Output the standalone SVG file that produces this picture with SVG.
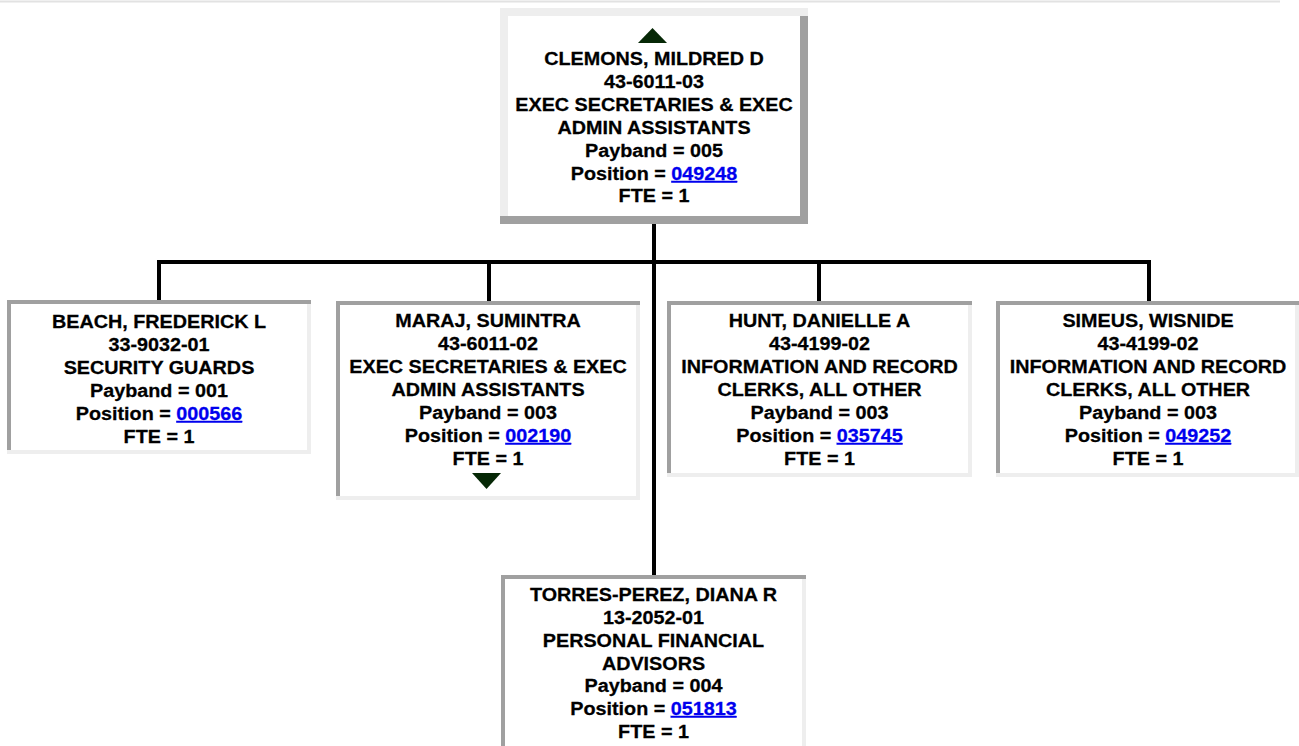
<svg xmlns="http://www.w3.org/2000/svg" width="1299" height="746" viewBox="0 0 1299 746">
<style>
text{font-family:"Liberation Sans",Arial,sans-serif;font-weight:bold;font-size:17.5px;fill:#000;text-anchor:middle;stroke:#000;stroke-width:0.25px}
.lnk{fill:#0000ee;stroke:#0000ee;text-decoration:underline}
.lt{fill:#eeeeee}
.dk{fill:#a0a0a0}
.tri{fill:#062806}
.conn{fill:none;stroke:#000;stroke-width:4}
</style>
<rect width="1299" height="746" fill="#fff"/>
<line x1="0" y1="1.5" x2="1280" y2="1.5" stroke="#e2e2e2" stroke-width="2"/>
<g id="connectors">
<path class="conn" d="M159 301 V262 H1149 V301 M489 262 V301 M819 262 V301 M654 224 V575"/>
</g>
<g id="node-clemons">
<rect x="500" y="8" width="308" height="216" fill="#fff"/>
<rect class="lt" x="500" y="8" width="308" height="8"/>
<rect class="lt" x="500" y="8" width="8" height="216"/>
<rect class="dk" x="800" y="16" width="8" height="208"/>
<rect class="dk" x="500" y="216" width="308" height="8"/>
<polygon class="tri" points="638,43 667,43 652.5,28"/>
<g transform="translate(654,0) scale(1.13,1)">
<text x="0" y="65">CLEMONS, MILDRED D</text>
<text x="0" y="88">43-6011-03</text>
<text x="0" y="111">EXEC SECRETARIES &amp; EXEC</text>
<text x="0" y="134">ADMIN ASSISTANTS</text>
<text x="0" y="157">Payband = 005</text>
<text x="0" y="180">Position = <tspan class="lnk">049248</tspan></text>
<text x="0" y="202.5">FTE = 1</text>
</g>
</g>
<g id="node-beach">
<rect x="7" y="300" width="304" height="154" fill="#fff"/>
<rect class="lt" x="307" y="300" width="4" height="154"/>
<rect class="lt" x="7" y="450" width="304" height="4"/>
<rect class="dk" x="7" y="300" width="304" height="4"/>
<rect class="dk" x="7" y="300" width="4" height="150"/>
<g transform="translate(159,0) scale(1.13,1)">
<text x="0" y="328">BEACH, FREDERICK L</text>
<text x="0" y="351">33-9032-01</text>
<text x="0" y="374">SECURITY GUARDS</text>
<text x="0" y="397">Payband = 001</text>
<text x="0" y="420">Position = <tspan class="lnk">000566</tspan></text>
<text x="0" y="443">FTE = 1</text>
</g>
</g>
<g id="node-maraj">
<rect x="336" y="301" width="304" height="199" fill="#fff"/>
<rect class="lt" x="636" y="301" width="4" height="199"/>
<rect class="lt" x="336" y="496" width="304" height="4"/>
<rect class="dk" x="336" y="301" width="304" height="4"/>
<rect class="dk" x="336" y="301" width="4" height="195"/>
<g transform="translate(488,0) scale(1.13,1)">
<text x="0" y="327.5">MARAJ, SUMINTRA</text>
<text x="0" y="350.5">43-6011-02</text>
<text x="0" y="373.5">EXEC SECRETARIES &amp; EXEC</text>
<text x="0" y="396.5">ADMIN ASSISTANTS</text>
<text x="0" y="419">Payband = 003</text>
<text x="0" y="442">Position = <tspan class="lnk">002190</tspan></text>
<text x="0" y="465">FTE = 1</text>
</g>
<polygon class="tri" points="472,473 501,473 486.5,489"/>
</g>
<g id="node-hunt">
<rect x="667" y="301" width="305" height="176" fill="#fff"/>
<rect class="lt" x="968" y="301" width="4" height="176"/>
<rect class="lt" x="667" y="473" width="305" height="4"/>
<rect class="dk" x="667" y="301" width="305" height="4"/>
<rect class="dk" x="667" y="301" width="4" height="172"/>
<g transform="translate(819.5,0) scale(1.13,1)">
<text x="0" y="327.5">HUNT, DANIELLE A</text>
<text x="0" y="350.5">43-4199-02</text>
<text x="0" y="373.5">INFORMATION AND RECORD</text>
<text x="0" y="396.5">CLERKS, ALL OTHER</text>
<text x="0" y="419">Payband = 003</text>
<text x="0" y="442">Position = <tspan class="lnk">035745</tspan></text>
<text x="0" y="465">FTE = 1</text>
</g>
</g>
<g id="node-simeus">
<rect x="996" y="301" width="303" height="176" fill="#fff"/>
<rect class="lt" x="1295" y="301" width="4" height="176"/>
<rect class="lt" x="996" y="473" width="303" height="4"/>
<rect class="dk" x="996" y="301" width="303" height="4"/>
<rect class="dk" x="996" y="301" width="4" height="172"/>
<g transform="translate(1148,0) scale(1.13,1)">
<text x="0" y="327.5">SIMEUS, WISNIDE</text>
<text x="0" y="350.5">43-4199-02</text>
<text x="0" y="373.5">INFORMATION AND RECORD</text>
<text x="0" y="396.5">CLERKS, ALL OTHER</text>
<text x="0" y="419">Payband = 003</text>
<text x="0" y="442">Position = <tspan class="lnk">049252</tspan></text>
<text x="0" y="465">FTE = 1</text>
</g>
</g>
<g id="node-torres">
<rect x="501" y="575" width="305" height="190" fill="#fff"/>
<rect class="lt" x="802" y="575" width="4" height="190"/>
<rect class="dk" x="501" y="575" width="305" height="4"/>
<rect class="dk" x="501" y="575" width="4" height="190"/>
<g transform="translate(653.5,0) scale(1.13,1)">
<text x="0" y="601">TORRES-PEREZ, DIANA R</text>
<text x="0" y="624">13-2052-01</text>
<text x="0" y="647">PERSONAL FINANCIAL</text>
<text x="0" y="670">ADVISORS</text>
<text x="0" y="692.5">Payband = 004</text>
<text x="0" y="715">Position = <tspan class="lnk">051813</tspan></text>
<text x="0" y="738">FTE = 1</text>
</g>
</g>
</svg>
